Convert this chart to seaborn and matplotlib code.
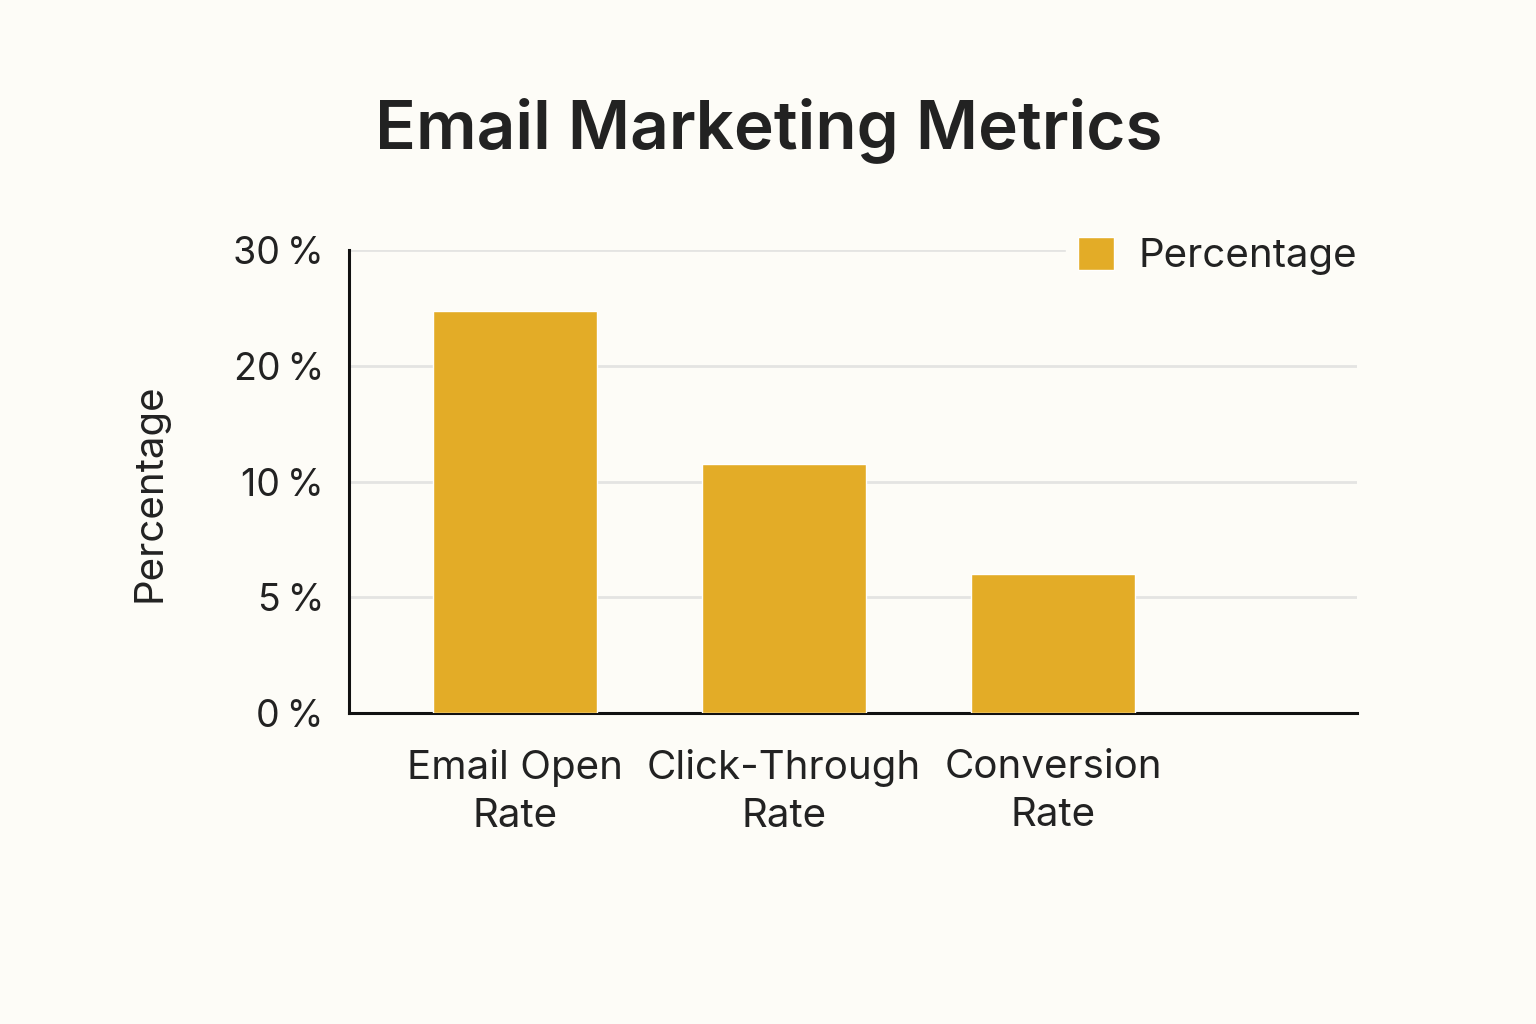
import numpy as np
import pandas as pd
import seaborn as sns
from matplotlib import pyplot as plt

# data
metrics = ["Email Open\nRate", "Click-Through\nRate", "Conversion\nRate"]
percentage = [24.7, 11.5, 6.0]
tick_values = [0, 5, 10, 20, 30]
tick_labels = ["0\u2009%", "5\u2009%", "10\u2009%", "20\u2009%", "30\u2009%"]

df = pd.DataFrame({"Metric": metrics, "Percentage": percentage})

bg = "#FDFCF7"
bar_color = "#E3AC27"
text_color = "#222222"

sns.set_theme(style="white")
plt.rcParams["font.family"] = ["Inter", "DejaVu Sans"]

fig = plt.figure(figsize=(15.36, 10.24), dpi=100, facecolor=bg)
ax = fig.add_axes([349 / 1536, 1 - 713 / 1024, (1357 - 349) / 1536, (713 - 250) / 1024])
ax.set_facecolor(bg)

# the reference axis puts 0, 5, 10, 20, 30 at equal steps
pos = np.arange(len(tick_values))


def fwd(v):
    return np.interp(v, tick_values, pos)


def inv(v):
    return np.interp(v, pos, tick_values)


ax.set_yscale("function", functions=(fwd, inv))

sns.barplot(data=df, x="Metric", y="Percentage", color=bar_color, width=0.61,
            saturation=1, label="Percentage", ax=ax, zorder=3)

ax.set_xlim(-0.617, 3.13)
ax.set_ylim(0, 30)
ax.set_yticks(tick_values)
ax.set_yticklabels(tick_labels)
ax.yaxis.grid(True, color="#E4E4E2", linewidth=2, zorder=0)
ax.tick_params(axis="y", labelsize=27, colors=text_color, length=0, pad=18)
ax.tick_params(axis="x", labelsize=29, colors=text_color, length=0, pad=26)
for lab in ax.get_xticklabels():
    lab.set_linespacing(1.36)

ax.set_xlabel("")
ax.set_ylabel("Percentage", fontsize=29, color=text_color)
ax.yaxis.set_label_coords(-0.179, 0.475)

for s in ["top", "right"]:
    ax.spines[s].set_visible(False)
for s in ["left", "bottom"]:
    ax.spines[s].set_color("#111111")
    ax.spines[s].set_linewidth(2.2)

leg = ax.legend(loc="upper right", bbox_to_anchor=(1.012, 1.055), fontsize=29,
                frameon=True, facecolor=bg, edgecolor=bg, framealpha=1,
                handlelength=0.9, handleheight=0.9, handletextpad=0.6,
                borderaxespad=0, borderpad=0.3)
for t in leg.get_texts():
    t.set_color(text_color)

fig.text(0.5006, 1 - 130 / 1024, "Email Marketing Metrics", ha="center", va="center",
         fontsize=48.6, fontweight="semibold", color=text_color)

fig.savefig("out.png", dpi=100, facecolor=bg)
